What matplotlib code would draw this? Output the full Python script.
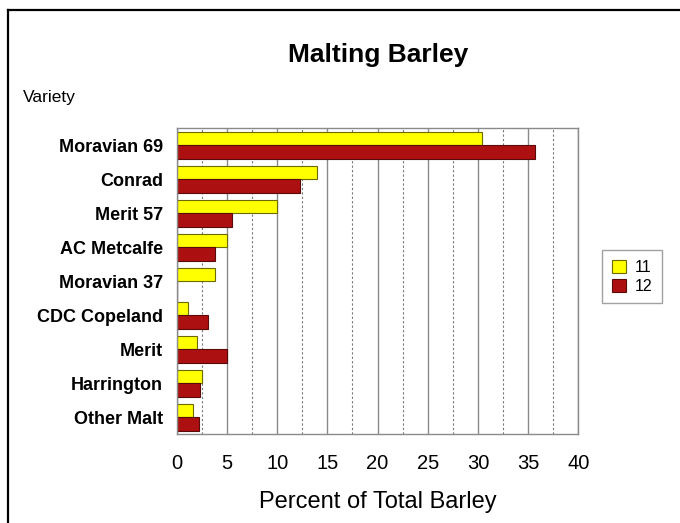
import numpy as np
import matplotlib
matplotlib.use("Agg")
import matplotlib.pyplot as plt
from matplotlib.lines import Line2D
from matplotlib.ticker import MultipleLocator

plt.rcParams['font.family'] = ['Liberation Sans', 'DejaVu Sans']

varieties = ["Moravian 69", "Conrad", "Merit 57", "AC Metcalfe", "Moravian 37",
             "CDC Copeland", "Merit", "Harrington", "Other Malt"]
year_11 = [30.4, 14.0, 10.0, 5.0, 3.8, 1.1, 2.0, 2.5, 1.6]
year_12 = [35.7, 12.3, 5.5, 3.8, 0.0, 3.1, 5.0, 2.3, 2.2]
series_names = ["11", "12"]

fig = plt.figure(figsize=(6.8, 5.23), dpi=100)
ax = fig.add_axes([0.2599, 0.1696, 0.5906, 0.5851])

ind = np.arange(len(varieties))
h = 0.39
ax.barh(ind - h / 2, year_11, h, color="#ffff00", edgecolor="#6b6b00", linewidth=0.8, label=series_names[0])
ax.barh(ind + h / 2, year_12, h, color="#ad1010", edgecolor="#5a0a0a", linewidth=0.8, label=series_names[1])

ax.set_xlim(0, 40)
ax.set_ylim(len(varieties) - 0.5, -0.5)
ax.set_yticks(ind)
ax.set_yticklabels(varieties, fontsize=13, fontweight='bold')
ax.xaxis.set_major_locator(MultipleLocator(5))
ax.xaxis.set_minor_locator(MultipleLocator(2.5))
ax.tick_params(axis='x', which='both', length=0, labelsize=14.5, pad=14.5)
ax.tick_params(axis='y', length=0, pad=10)
ax.grid(axis='x', which='major', color='#8a8a8a', linewidth=1.0, linestyle='-')
ax.grid(axis='x', which='minor', color='#777777', linewidth=0.8, linestyle=(0, (2, 2)))
ax.set_axisbelow(True)
for s in ax.spines.values():
    s.set_color('#8a8a8a')
    s.set_linewidth(1.0)

ax.set_xlabel("Percent of Total Barley", fontsize=17, labelpad=12.5)
fig.text(0.556, 0.895, "Malting Barley", fontsize=19, fontweight='bold', ha='center', va='center')
fig.text(0.034, 0.814, "Variety", fontsize=12.5, ha='left', va='center')

leg = fig.legend(loc='center', bbox_to_anchor=(0.9295, 0.471), fontsize=11.5, frameon=True,
                 fancybox=False, edgecolor='#8a8a8a', handlelength=0.9, handleheight=0.9,
                 handletextpad=0.5, borderpad=0.6, labelspacing=0.25)
leg.get_frame().set_linewidth(1.0)

# outer frame (top and left edges)
fig.add_artist(Line2D([0.0115, 1.0], [0.981, 0.981], transform=fig.transFigure, color='black', linewidth=1.6))
fig.add_artist(Line2D([0.0115, 0.0115], [0.0, 0.981], transform=fig.transFigure, color='black', linewidth=1.6))

fig.savefig("out.png", dpi=100)
